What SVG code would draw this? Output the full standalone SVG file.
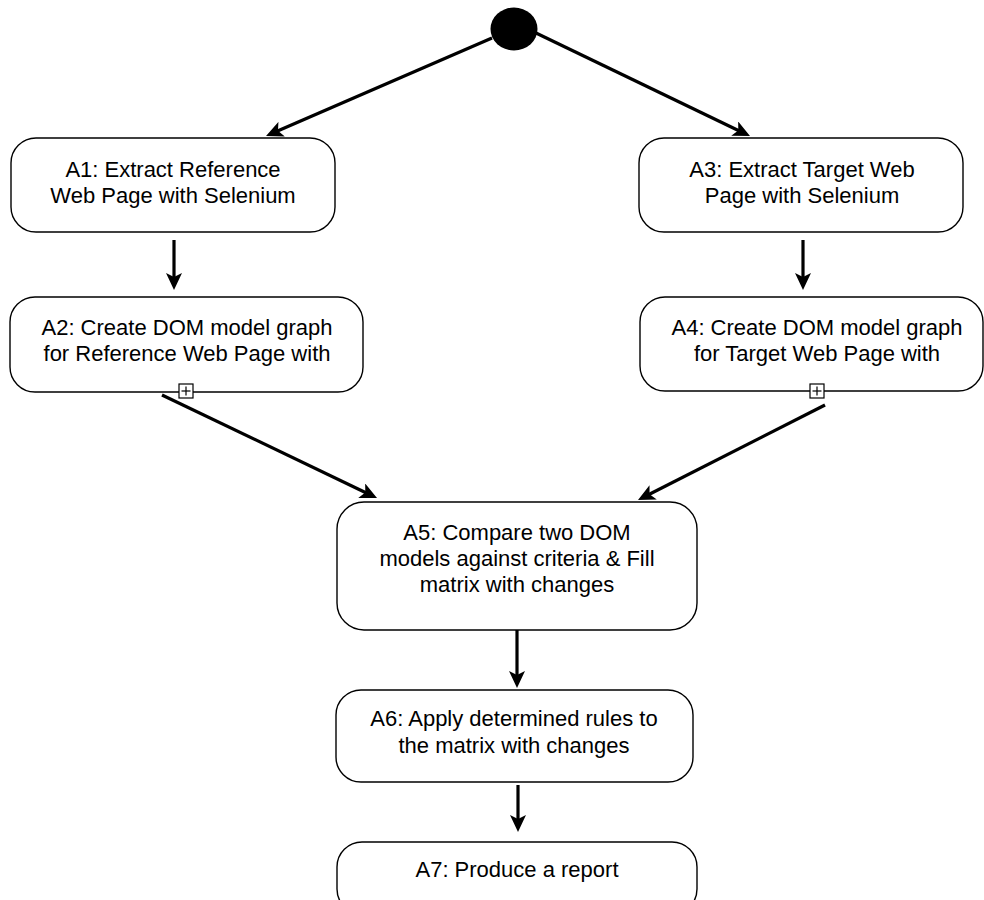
<svg xmlns="http://www.w3.org/2000/svg" width="984" height="900" viewBox="0 0 984 900">
  <style>
    .box { fill: #ffffff; stroke: #000000; stroke-width: 1.4; }
    .lbl { font-family: "Liberation Sans", Arial, sans-serif; font-size: 22px; fill: #000000; text-anchor: middle; }
    .edge { fill: none; stroke: #000000; stroke-width: 3.2; }
    .sub { fill: #ffffff; stroke: #000000; stroke-width: 1.2; }
    .subline { stroke: #000000; stroke-width: 1.2; }
  </style>
  <defs>
    <marker id="arrow" markerUnits="userSpaceOnUse" markerWidth="18" markerHeight="16" refX="7" refY="8" orient="auto" viewBox="0 0 18 16">
      <path d="M0,0 L17,8 L0,16 L4,8 Z" fill="#000000"/>
    </marker>
  </defs>
  <rect width="984" height="900" fill="#ffffff"/>

  <!-- initial node -->
  <g id="start">
    <ellipse cx="514" cy="29" rx="23.5" ry="21.5" fill="#000000"/>
  </g>

  <!-- activities -->
  <g id="A1">
    <rect class="box" x="11" y="138" width="324" height="94" rx="25" ry="25"/>
    <text class="lbl" x="173" y="177">A1: Extract Reference</text>
    <text class="lbl" x="173" y="203">Web Page with Selenium</text>
  </g>
  <g id="A2">
    <rect class="box" x="10" y="297" width="353" height="95" rx="25" ry="25"/>
    <text class="lbl" x="187" y="335">A2: Create DOM model graph</text>
    <text class="lbl" x="187" y="361">for Reference Web Page with</text>
    <rect class="sub" x="179" y="384" width="14" height="14"/>
    <line class="subline" x1="181.5" y1="391" x2="190.5" y2="391"/>
    <line class="subline" x1="186" y1="386.5" x2="186" y2="395.5"/>
  </g>
  <g id="A3">
    <rect class="box" x="639" y="138" width="324" height="94" rx="25" ry="25"/>
    <text class="lbl" x="802" y="177">A3: Extract Target Web</text>
    <text class="lbl" x="802" y="203">Page with Selenium</text>
  </g>
  <g id="A4">
    <rect class="box" x="640" y="297" width="343" height="94" rx="25" ry="25"/>
    <text class="lbl" x="817" y="335">A4: Create DOM model graph</text>
    <text class="lbl" x="817" y="361">for Target Web Page with</text>
    <rect class="sub" x="810" y="384" width="14" height="14"/>
    <line class="subline" x1="812.5" y1="391" x2="821.5" y2="391"/>
    <line class="subline" x1="817" y1="386.5" x2="817" y2="395.5"/>
  </g>
  <g id="A5">
    <rect class="box" x="337" y="502" width="360" height="128" rx="27" ry="27"/>
    <text class="lbl" x="517" y="540">A5: Compare two DOM</text>
    <text class="lbl" x="517" y="566">models against criteria &amp; Fill</text>
    <text class="lbl" x="517" y="592">matrix with changes</text>
  </g>
  <g id="A6">
    <rect class="box" x="336" y="690" width="357" height="92" rx="25" ry="25"/>
    <text class="lbl" x="514" y="726">A6: Apply determined rules to</text>
    <text class="lbl" x="514" y="753">the matrix with changes</text>
  </g>
  <g id="A7">
    <rect class="box" x="337" y="842" width="360" height="72" rx="25" ry="25"/>
    <text class="lbl" x="517" y="877">A7: Produce a report</text>
  </g>

  <!-- control flow -->
  <g id="edges">
    <path class="edge" d="M492,38 L275.2,132" marker-end="url(#arrow)"/>
    <path class="edge" d="M536,33 L741,131.7" marker-end="url(#arrow)"/>
    <path class="edge" d="M174,240 L174,280" marker-end="url(#arrow)"/>
    <path class="edge" d="M803,240 L803,280" marker-end="url(#arrow)"/>
    <path class="edge" d="M162,395 L368,493.7" marker-end="url(#arrow)"/>
    <path class="edge" d="M825,405 L646.9,495.5" marker-end="url(#arrow)"/>
    <path class="edge" d="M517,630 L517,678" marker-end="url(#arrow)"/>
    <path class="edge" d="M518,785 L518,822" marker-end="url(#arrow)"/>
  </g>
</svg>
